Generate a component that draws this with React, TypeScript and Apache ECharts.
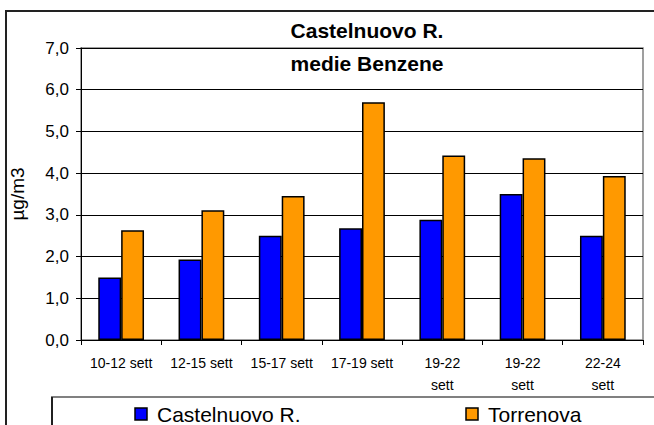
import React, { useEffect, useRef } from "react";
import * as echarts from "echarts";

const categories = ["10-12 sett", "12-15 sett", "15-17 sett", "17-19 sett", "19-22 sett", "19-22 sett", "22-24 sett"];
const castelnuovo = [1.5, 1.93, 2.5, 2.68, 2.88, 3.5, 2.5];
const torrenova = [2.63, 3.11, 3.45, 5.7, 4.42, 4.36, 3.93];
const seriesNames = ["Castelnuovo R.", "Torrenova"];
const seriesColors = ["#0000FF", "#FF9900"];
const titleLines = ["Castelnuovo R.", "medie Benzene"];
const yAxisName = "µg/m3";

export default function App() {
  const ref = useRef<HTMLDivElement>(null);
  useEffect(() => {
    document.body.style.margin = "0";
    const chart = echarts.init(ref.current!, null, { renderer: "svg" });
    const font = "Arial, 'Liberation Sans', sans-serif";
    const legendX = [135, 466];
    const legendItems = seriesNames.map((n, i) => ({
      type: "group",
      x: legendX[i],
      y: 408,
      silent: true,
      z: 110,
      children: [
        {
          type: "rect",
          shape: { x: 0, y: 0, width: 12, height: 12 },
          style: { fill: seriesColors[i], stroke: "#000", lineWidth: 1.5 },
        },
        {
          type: "text",
          x: 22,
          y: 6,
          style: {
            text: n,
            font: `21px ${font}`,
            fill: "#000",
            verticalAlign: "middle",
            align: "left",
          },
        },
      ],
    }));
    chart.setOption({
      animation: false,
      backgroundColor: "#ffffff",
      title: {
        text: titleLines.join("\n"),
        left: 362,
        textAlign: "center",
        top: 9,
        textStyle: { fontFamily: font, fontSize: 21, fontWeight: "bold", color: "#000", lineHeight: 33 },
      },
      grid: { left: 80, right: 11, top: 48, bottom: 85, show: true, borderColor: "#808080", borderWidth: 1.5, backgroundColor: "transparent" },
      xAxis: {
        type: "category",
        data: categories,
        axisLine: { lineStyle: { color: "#000", width: 1 } },
        axisTick: { show: true, length: 5, lineStyle: { color: "#000" } },
        axisLabel: {
          fontFamily: font,
          fontSize: 14,
          color: "#000",
          margin: 12,
          lineHeight: 22,
          interval: 0,
          formatter: (v: string, i: number) => (i >= 4 ? v.replace(" ", "\n") : v),
        },
      },
      yAxis: {
        type: "value",
        min: 0,
        max: 7,
        interval: 1,
        name: yAxisName,
        nameLocation: "middle",
        nameGap: 54,
        nameTextStyle: { fontFamily: font, fontSize: 19, color: "#000" },
        axisLine: { show: true, lineStyle: { color: "#000", width: 1 } },
        axisTick: { show: true, length: 5, lineStyle: { color: "#000" } },
        axisLabel: {
          fontFamily: font,
          fontSize: 17,
          color: "#000",
          margin: 12,
          formatter: (v: number) => v.toFixed(1).replace(".", ","),
        },
        splitLine: { show: true, lineStyle: { color: "#000", width: 1 } },
      },
      series: [
        {
          name: seriesNames[0],
          type: "bar",
          data: castelnuovo,
          barGap: "0%",
          barCategoryGap: "43%",
          itemStyle: { color: seriesColors[0], borderColor: "#000", borderWidth: 1.5 },
        },
        {
          name: seriesNames[1],
          type: "bar",
          data: torrenova,
          barGap: "0%",
          barCategoryGap: "43%",
          itemStyle: { color: seriesColors[1], borderColor: "#000", borderWidth: 1.5 },
        },
      ],
      graphic: [
        {
          type: "rect",
          shape: { x: 6, y: 11, width: 700, height: 500 },
          style: { fill: "none", stroke: "#222", lineWidth: 2 },
          silent: true,
          z: 100,
        },
        {
          type: "rect",
          shape: { x: 52, y: 397, width: 700, height: 100 },
          style: { fill: "none", stroke: "#808080", lineWidth: 2 },
          silent: true,
          z: 100,
        },
        {
          type: "line",
          shape: { x1: 52, y1: 397, x2: 52, y2: 430 },
          style: { stroke: "#000", lineWidth: 1.5 },
          silent: true,
          z: 101,
        },
        ...legendItems,
      ],
    });
    return () => chart.dispose();
  }, []);
  return <div ref={ref} style={{ width: 654, height: 425 }} />;
}
